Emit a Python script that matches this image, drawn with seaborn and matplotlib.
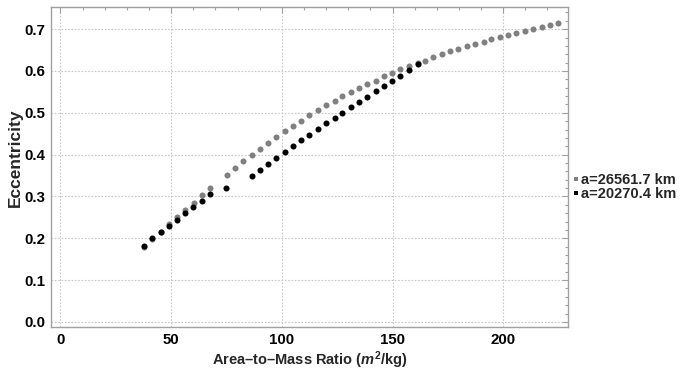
import matplotlib
matplotlib.use("Agg")
import matplotlib.pyplot as plt
from matplotlib.lines import Line2D
from matplotlib.ticker import MultipleLocator
import seaborn as sns
import pandas as pd

# Orbit with a = 26561.7 km
amr_geo = [37.8, 41.5, 45.3, 49.1, 52.7, 56.4, 60.2, 64.0, 67.6, 75.1, 78.8, 82.6,
           86.4, 90.2, 93.8, 97.6, 101.4, 105.1, 108.7, 112.5, 116.4, 120.0, 123.8,
           127.4, 131.2, 135.0, 138.7, 142.5, 146.2, 149.8, 153.6, 157.5, 161.3,
           164.8, 168.5, 172.3, 176.0, 179.8, 183.6, 187.3, 191.1, 194.7, 198.5,
           202.3, 206.0, 209.8, 213.6, 217.3, 221.1, 224.7]
ecc_geo = [0.179, 0.197, 0.214, 0.233, 0.251, 0.2687, 0.2854, 0.303, 0.319, 0.352,
           0.368, 0.384, 0.399, 0.4136, 0.428, 0.4423, 0.456, 0.4687, 0.4815, 0.494,
           0.506, 0.519, 0.5285, 0.539, 0.550, 0.560, 0.568, 0.577, 0.587, 0.596,
           0.604, 0.6115, 0.618, 0.625, 0.633, 0.6395, 0.6466, 0.652, 0.6586, 0.664,
           0.6697, 0.6754, 0.681, 0.686, 0.6914, 0.695, 0.700, 0.705, 0.709, 0.7136]

# Orbit with a = 20270.4 km
amr_meo = [37.8, 41.5, 45.3, 49.1, 52.7, 56.4, 60.1, 63.8, 67.6, 75.0, 86.4, 90.2,
           93.8, 97.6, 101.4, 105.1, 108.7, 112.5, 116.4, 120.0, 123.8, 127.4, 131.2,
           135.0, 138.7, 142.5, 146.2, 149.8, 153.6, 157.5, 161.3]
ecc_meo = [0.1825, 0.200, 0.215, 0.2295, 0.2447, 0.2606, 0.275, 0.289, 0.305, 0.320,
           0.349, 0.364, 0.378, 0.392, 0.4065, 0.420, 0.4345, 0.448, 0.4615, 0.4744,
           0.488, 0.500, 0.5127, 0.526, 0.538, 0.551, 0.563, 0.5756, 0.5887, 0.602,
           0.617]

series_labels = ["a=26561.7 km", "a=20270.4 km"]
series_colors = ["#808080", "#000000"]
y_tick_labels = ["0.0", "0.1", "0.2", "0.3", "0.4", "0.5", "0.6", "0.7"]

sns.set_theme(style="white")
plt.rcParams["font.family"] = ["Liberation Sans", "DejaVu Sans"]
plt.rcParams["font.weight"] = "bold"
plt.rcParams["mathtext.fontset"] = "custom"
plt.rcParams["mathtext.it"] = "Liberation Sans:bold:italic"
plt.rcParams["mathtext.rm"] = "Liberation Sans:bold"
plt.rcParams["mathtext.bf"] = "Liberation Sans:bold"

df_geo = pd.DataFrame({"amr": amr_geo, "ecc": ecc_geo})
df_meo = pd.DataFrame({"amr": amr_meo, "ecc": ecc_meo})

fig = plt.figure(figsize=(6.83, 3.71), dpi=100)
ax = fig.add_axes([51 / 683, 1 - 327.3 / 371, (568.3 - 51) / 683, (327.3 - 7) / 371])

sns.scatterplot(data=df_geo, x="amr", y="ecc", color=series_colors[0], s=19,
                linewidth=0, ax=ax, zorder=3, legend=False)
sns.scatterplot(data=df_meo, x="amr", y="ecc", color=series_colors[1], s=19,
                linewidth=0, ax=ax, zorder=4, legend=False)

ax.set_xlim(-4.25, 229.4)
ax.set_ylim(-0.013, 0.753)

ax.xaxis.set_major_locator(MultipleLocator(50))
ax.xaxis.set_minor_locator(MultipleLocator(10))
ax.yaxis.set_minor_locator(MultipleLocator(0.02))
ax.set_yticks([float(t) for t in y_tick_labels])
ax.set_yticklabels(y_tick_labels)

frame_color = "#a0a0a0"
for side in ["left", "right", "top", "bottom"]:
    ax.spines[side].set_visible(True)
    ax.spines[side].set_color(frame_color)
    ax.spines[side].set_linewidth(1.0)

ax.tick_params(which="both", direction="in", top=True, right=True,
               color=frame_color, width=0.8)
ax.tick_params(which="major", length=4, labelsize=10.8, labelcolor="black", pad=4)
ax.tick_params(which="minor", length=2)
for lbl in ax.get_xticklabels() + ax.get_yticklabels():
    lbl.set_fontweight("bold")

ax.grid(True, which="major", linestyle=(0, (1.5, 1.5)), color="#c8c8c8", linewidth=0.8)
ax.set_axisbelow(True)

ax.set_xlabel("Area\u2013to\u2013Mass Ratio ($m^2$/kg)", fontsize=10.5,
              fontweight="bold", labelpad=2)
ax.set_ylabel("Eccentricity", fontsize=12.5, fontweight="bold")
ax.yaxis.set_label_coords(-0.0547, 0.528)

handles = [Line2D([], [], linestyle="none", marker="s", markersize=2.8,
                  markerfacecolor=c, markeredgewidth=0, color=c)
           for c in series_colors]
leg = ax.legend(handles, series_labels, loc="center left",
                bbox_to_anchor=(1.011, 0.438), frameon=False, handlelength=0.3,
                handletextpad=0.15, labelspacing=0.0, borderaxespad=0,
                borderpad=0,
                prop={"family": "Liberation Sans", "weight": "bold", "size": 10.5})

fig.savefig("out.png", dpi=100)
